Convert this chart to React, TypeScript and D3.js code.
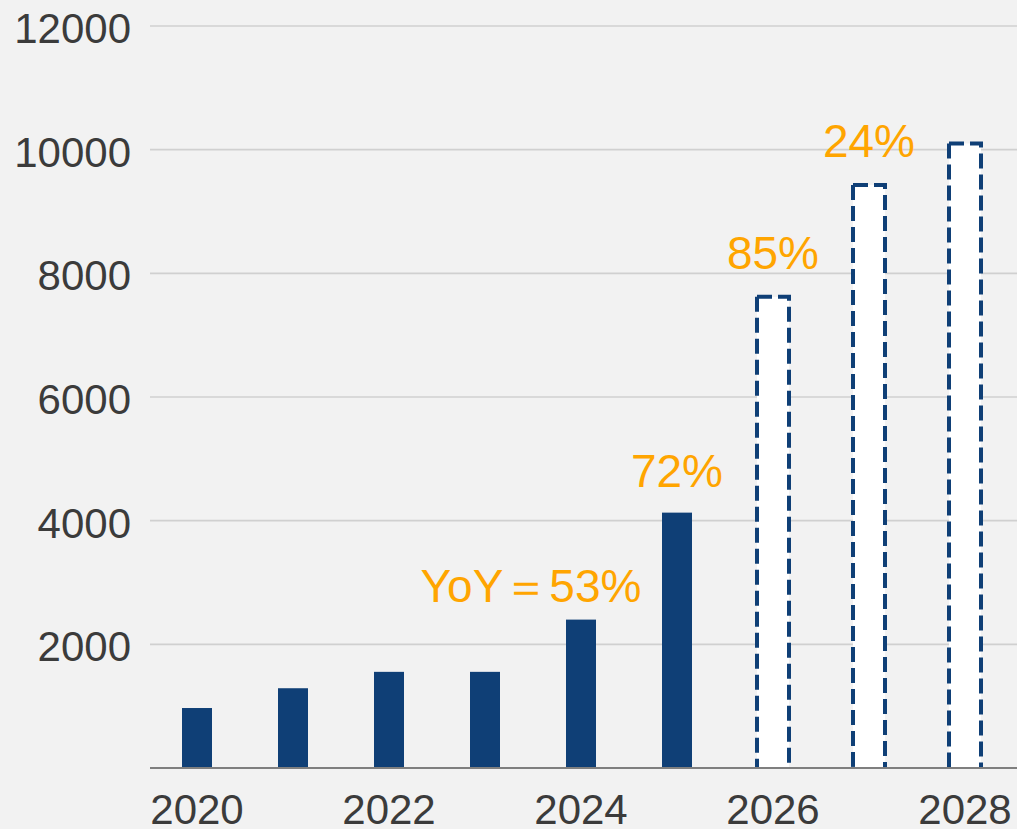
import React from "react";
import * as d3 from "d3";

const years = ["2020", "2021", "2022", "2023", "2024", "2025", "2026", "2027", "2028"];
const values = [970, 1290, 1555, 1555, 2400, 4130, 7620, 9430, 10100];
const isForecast = [false, false, false, false, false, false, true, true, true];
const yTicks = [2000, 4000, 6000, 8000, 10000, 12000];
const xTickLabels = ["2020", "2022", "2024", "2026", "2028"];
const yoyLabels = [
  { year: "2024", text: "YoY＝53%", dx: -50, dy: -18 },
  { year: "2025", text: "72%", dx: 0, dy: -26 },
  { year: "2026", text: "85%", dx: 0, dy: -28 },
  { year: "2027", text: "24%", dx: 0, dy: -28 },
];

const W = 1017;
const H = 829;
const FONT = "'Liberation Sans', Arial, sans-serif";

export default function App() {
  const x = d3.scalePoint<string>().domain(years).range([149, 1013]).padding(0.5);
  const y = d3.scaleLinear().domain([0, 12000]).range([768, 26]);
  const barW = 30;
  const navy = "#0f3f76";
  const orange = "#ffa500";
  const textCol = "#3b3b3b";

  return (
    <>
      <style>{`body{margin:0;background:#f2f2f2;overflow:hidden}`}</style>
      <svg width={W} height={H} style={{ display: "block", background: "#f2f2f2" }}>
        {yTicks.map((t) => (
          <g key={t}>
            <line x1={150} x2={W} y1={y(t)} y2={y(t)} stroke="#d0d0d0" strokeWidth={1.6} />
            <text
              x={131}
              y={y(t) + 17}
              textAnchor="end"
              fontFamily={FONT}
              fontSize={42}
              fill={textCol}
            >
              {t}
            </text>
          </g>
        ))}
        {years.map((yr, i) => {
          const cx = x(yr)!;
          const top = y(values[i]);
          const base = y(0);
          if (isForecast[i]) {
            const l = cx - 16;
            const r = cx + 16;
            return (
              <g key={yr}>
                <rect x={l} y={top} width={r - l} height={base - top} fill="#ffffff" />
                <path
                  d={`M${l},${top}H${r}V${base}`}
                  fill="none"
                  stroke={navy}
                  strokeWidth={4}
                  strokeDasharray="15 6"
                />
                <path
                  d={`M${l},${top}V${base}`}
                  fill="none"
                  stroke={navy}
                  strokeWidth={4}
                  strokeDasharray="15 6"
                />
              </g>
            );
          }
          return (
            <rect
              key={yr}
              x={cx - barW / 2}
              y={top}
              width={barW}
              height={base - top}
              fill={navy}
            />
          );
        })}
        <line x1={150} x2={W} y1={y(0)} y2={y(0)} stroke="#7f7f7f" strokeWidth={2} />
        {xTickLabels.map((lbl) => (
          <text
            key={lbl}
            x={x(lbl)!}
            y={824}
            textAnchor="middle"
            fontFamily={FONT}
            fontSize={42}
            fill={textCol}
          >
            {lbl}
          </text>
        ))}
        {yoyLabels.map((l) => {
          const i = years.indexOf(l.year);
          return (
            <text
              key={l.year}
              x={x(l.year)! + l.dx}
              y={y(values[i]) + l.dy}
              textAnchor="middle"
              fontFamily={FONT}
              fontSize={46}
              fill={orange}
            >
              {l.text}
            </text>
          );
        })}
      </svg>
    </>
  );
}
